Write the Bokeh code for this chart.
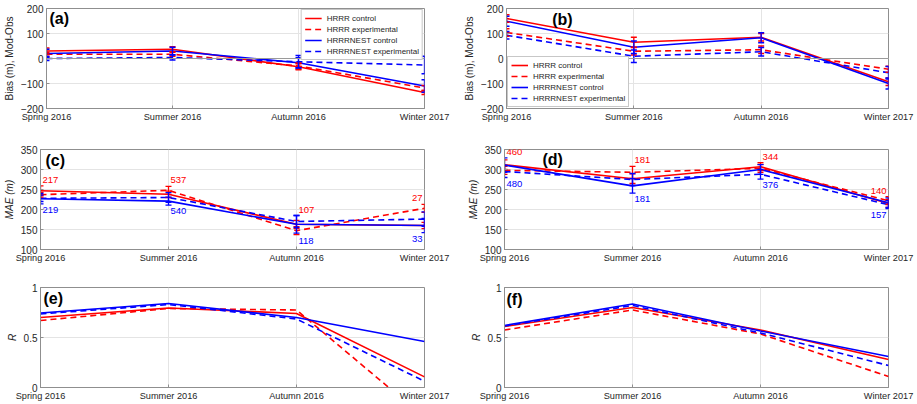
from bokeh.plotting import figure
from bokeh.models import FixedTicker, Range1d, Span, Label, Whisker, ColumnDataSource, TeeHead
from bokeh.layouts import column, row
from bokeh.embed import file_html
from bokeh.resources import INLINE

# ---------------- data ----------------
seasons = ["Spring 2016", "Summer 2016", "Autumn 2016", "Winter 2017"]
series_names = ["HRRR control", "HRRR experimental", "HRRRNEST control", "HRRRNEST experimental"]

# (a) bias
bias_a_hrrr_ctl = [30, 37, -33, -136]
bias_a_hrrr_exp = [17, 17, -30, -118]
bias_a_nest_ctl = [20, 30, -17, -110]
bias_a_nest_exp = [0, 4, -13, -26]
err_a_hrrr_ctl = [12, 10, 12, 8]
err_a_hrrr_exp = [8, 8, 12, 10]
err_a_nest_ctl = [17, 15, 20, 25]
err_a_nest_exp = [8, 10, 25, 35]

# (b) bias
bias_b_hrrr_ctl = [160, 65, 85, -93]
bias_b_hrrr_exp = [104, 29, 35, -43]
bias_b_nest_ctl = [149, 45, 83, -100]
bias_b_nest_exp = [93, 9, 27, -57]
err_b_hrrr_ctl = [15, 20, 15, 15]
err_b_hrrr_exp = [15, 15, 15, 12]
err_b_nest_ctl = [20, 25, 20, 22]
err_b_nest_exp = [15, 25, 17, 25]

# (c) MAE
mae_c_hrrr_ctl = [247, 238, 163, 160]
mae_c_hrrr_exp = [237, 248, 147, 203]
mae_c_nest_ctl = [227, 221, 163, 160]
mae_c_nest_exp = [228, 230, 170, 176]
err_c_hrrr_ctl = [12, 8, 10, 8]
err_c_hrrr_exp = [6, 10, 10, 10]
err_c_nest_ctl = [13, 10, 22, 18]
err_c_nest_exp = [8, 12, 15, 18]
n_c_hrrr = [217, 537, 107, 27]
n_c_nest = [219, 540, 118, 33]

# (d) MAE
mae_d_hrrr_ctl = [312, 277, 307, 215]
mae_d_hrrr_exp = [298, 293, 303, 222]
mae_d_nest_ctl = [311, 259, 300, 217]
mae_d_nest_exp = [295, 275, 288, 212]
err_d_hrrr_ctl = [12, 12, 10, 10]
err_d_hrrr_exp = [10, 15, 10, 10]
err_d_nest_ctl = [18, 18, 12, 12]
err_d_nest_exp = [15, 15, 12, 10]
n_d_hrrr = [460, 181, 344, 140]
n_d_nest = [480, 181, 376, 157]

# (e) R
r_e_hrrr_ctl = [0.70, 0.795, 0.74, 0.106]
r_e_hrrr_exp = [0.67, 0.79, 0.775, -0.30]
r_e_nest_ctl = [0.745, 0.84, 0.70, 0.46]
r_e_nest_exp = [0.735, 0.83, 0.685, 0.063]

# (f) R
r_f_hrrr_ctl = [0.61, 0.80, 0.575, 0.28]
r_f_hrrr_exp = [0.575, 0.775, 0.535, 0.11]
r_f_nest_ctl = [0.62, 0.835, 0.565, 0.31]
r_f_nest_exp = [0.615, 0.82, 0.545, 0.22]

# ---------------- style ----------------
FONT = "Liberation Sans"
AX = "#8f8f8f"
TXT = "#262626"
GRID = "#e4e4e4"
RED = "#ff0000"
BLUE = "#0000ff"
STYLES = [(RED, "solid"), (RED, "6 4"), (BLUE, "solid"), (BLUE, "6 4")]
x_pos = list(range(len(seasons)))


def make_fig(width, height, left, right, top, bottom, yr, yticks, ylabel, ylabel_style, overrides=None):
    p = figure(width=width, height=height, x_range=Range1d(0, len(seasons) - 1),
               y_range=Range1d(*yr), output_backend="svg", toolbar_location=None, tools="")
    p.min_border_left = left
    p.min_border_right = right
    p.min_border_top = top
    p.min_border_bottom = bottom
    p.background_fill_color = "white"
    p.border_fill_color = "white"
    p.outline_line_color = AX
    p.outline_line_width = 1
    p.xaxis.ticker = FixedTicker(ticks=x_pos)
    p.xaxis.major_label_overrides = {i: s for i, s in enumerate(seasons)}
    p.yaxis.ticker = FixedTicker(ticks=yticks)
    if overrides:
        p.yaxis.major_label_overrides = overrides
    for ax in (p.xaxis[0], p.yaxis[0]):
        ax.axis_line_color = AX
        ax.major_tick_line_color = AX
        ax.major_tick_in = 3
        ax.major_tick_out = 0
        ax.minor_tick_line_color = None
        ax.major_label_text_font = FONT
        ax.major_label_text_color = TXT
        ax.major_label_standoff = 3
    p.xaxis.major_label_text_font_size = "9.2px"
    p.yaxis.major_label_text_font_size = "10px"
    p.yaxis.axis_label = ylabel
    p.yaxis.axis_label_text_font = FONT
    p.yaxis.axis_label_text_font_size = "10px"
    p.yaxis.axis_label_text_font_style = ylabel_style
    p.yaxis.axis_label_text_color = TXT
    p.yaxis.axis_label_standoff = 3
    p.grid.grid_line_color = GRID
    p.grid.grid_line_width = 1
    return p


def add_letter(p, letter, px_x, px_y):
    xr = p.x_range
    yr = p.y_range
    x = xr.start + px_x * (xr.end - xr.start) / 384.0
    y = yr.end - px_y * (yr.end - yr.start) / 100.0
    p.add_layout(Label(x=x, y=y, text=letter, text_font=FONT, text_font_size="16px",
                       text_font_style="bold", text_color="black", text_baseline="top"))


def add_series(p, vals_list, errs_list=None, legend=False):
    for i, vals in enumerate(vals_list):
        color, dash = STYLES[i]
        kw = dict(legend_label=series_names[i]) if legend else {}
        p.line(x_pos, vals, line_color=color, line_dash=dash, line_width=1.6, **kw)
        if errs_list is not None:
            errs = errs_list[i]
            src = ColumnDataSource(dict(x=x_pos,
                                        upper=[v + e for v, e in zip(vals, errs)],
                                        lower=[v - e for v, e in zip(vals, errs)]))
            p.add_layout(Whisker(source=src, base="x", upper="upper", lower="lower",
                                 line_color=color, line_width=1.3, level="glyph",
                                 upper_head=TeeHead(size=6, line_color=color, line_width=1.3),
                                 lower_head=TeeHead(size=6, line_color=color, line_width=1.3)))


def style_legend(p, loc):
    lg = p.legend[0]
    lg.location = loc
    lg.label_text_font = FONT
    lg.label_text_font_size = "8px"
    lg.label_text_color = TXT
    lg.glyph_width = 17
    lg.glyph_height = 10
    lg.label_height = 10
    lg.label_standoff = 5
    lg.spacing = 1
    lg.padding = 3
    lg.margin = 1
    lg.border_line_color = AX
    lg.background_fill_alpha = 1


def add_counts(p, vals_list, errs_list, n_top, n_bot):
    span = p.y_range.end - p.y_range.start
    pad = 3 * span / 100.0
    tops = [max(v[k] + e[k] for v, e in zip(vals_list, errs_list)) + pad for k in x_pos]
    bots = [min(v[k] - e[k] for v, e in zip(vals_list, errs_list)) - pad for k in x_pos]
    last = len(x_pos) - 1
    for ys, ns, color, base in ((tops, n_top, RED, "bottom"), (bots, n_bot, BLUE, "top")):
        p.text(x=x_pos[:last], y=ys[:last], text=[str(n) for n in ns[:last]], text_color=color,
               text_font=FONT_V, text_font_size="9.5px", text_align="left", text_baseline=base,
               x_offset=2)
        p.text(x=x_pos[last:], y=ys[last:], text=[str(n) for n in ns[last:]], text_color=color,
               text_font=FONT_V, text_font_size="9.5px", text_align="right", text_baseline=base,
               x_offset=-2)


from bokeh.core.properties import value
FONT_V = value(FONT)

# ---------------- row 1: bias ----------------
bias_ticks = [-200, -100, 0, 100, 200]
pa = make_fig(460, 135, 40, 36, 8, 27, (-200, 200), bias_ticks, "Bias (m), Mod-Obs", "normal")
pa.add_layout(Span(location=0, dimension="width", line_color="#9a9a9a", line_width=1))
add_series(pa, [bias_a_hrrr_ctl, bias_a_hrrr_exp, bias_a_nest_ctl, bias_a_nest_exp],
           [err_a_hrrr_ctl, err_a_hrrr_exp, err_a_nest_ctl, err_a_nest_exp], legend=True)
style_legend(pa, "top_right")
add_letter(pa, "(a)", 3, 1.5)

pb = make_fig(457, 135, 44, 29, 8, 27, (-200, 200), bias_ticks, "Bias (m), Mod-Obs", "normal")
pb.add_layout(Span(location=0, dimension="width", line_color="#9a9a9a", line_width=1))
add_series(pb, [bias_b_hrrr_ctl, bias_b_hrrr_exp, bias_b_nest_ctl, bias_b_nest_exp],
           [err_b_hrrr_ctl, err_b_hrrr_exp, err_b_nest_ctl, err_b_nest_exp], legend=True)
style_legend(pb, "bottom_left")
add_letter(pb, "(b)", 46, 2.5)

# ---------------- row 2: MAE ----------------
mae_ticks = [100, 150, 200, 250, 300, 350]
pc = make_fig(460, 135, 40, 36, 14, 21, (100, 350), mae_ticks, "MAE (m)", "italic")
vals_c = [mae_c_hrrr_ctl, mae_c_hrrr_exp, mae_c_nest_ctl, mae_c_nest_exp]
errs_c = [err_c_hrrr_ctl, err_c_hrrr_exp, err_c_nest_ctl, err_c_nest_exp]
add_series(pc, vals_c, errs_c)
add_counts(pc, vals_c, errs_c, n_c_hrrr, n_c_nest)
add_letter(pc, "(c)", 5, 2)

pd_ = make_fig(457, 135, 44, 29, 14, 21, (100, 350), mae_ticks, "MAE (m)", "italic")
vals_d = [mae_d_hrrr_ctl, mae_d_hrrr_exp, mae_d_nest_ctl, mae_d_nest_exp]
errs_d = [err_d_hrrr_ctl, err_d_hrrr_exp, err_d_nest_ctl, err_d_nest_exp]
add_series(pd_, vals_d, errs_d)
add_counts(pd_, vals_d, errs_d, n_d_hrrr, n_d_nest)
add_letter(pd_, "(d)", 38, 1)

# ---------------- row 3: R ----------------
r_ticks = [0, 0.5, 1]
r_over = {0: "0", 0.5: "0.5", 1: "1"}
pe = make_fig(460, 134, 40, 36, 17, 17, (0, 1), r_ticks, "R", "italic", r_over)
add_series(pe, [r_e_hrrr_ctl, r_e_hrrr_exp, r_e_nest_ctl, r_e_nest_exp])
add_letter(pe, "(e)", 3, 2)

pf = make_fig(457, 134, 44, 29, 17, 17, (0, 1), r_ticks, "R", "italic", r_over)
add_series(pf, [r_f_hrrr_ctl, r_f_hrrr_exp, r_f_nest_ctl, r_f_nest_exp])
add_letter(pf, "(f)", 2, 3)

layout = column(row(pa, pb), row(pc, pd_), row(pe, pf))
open("out.html", "w").write(file_html(layout, INLINE))
